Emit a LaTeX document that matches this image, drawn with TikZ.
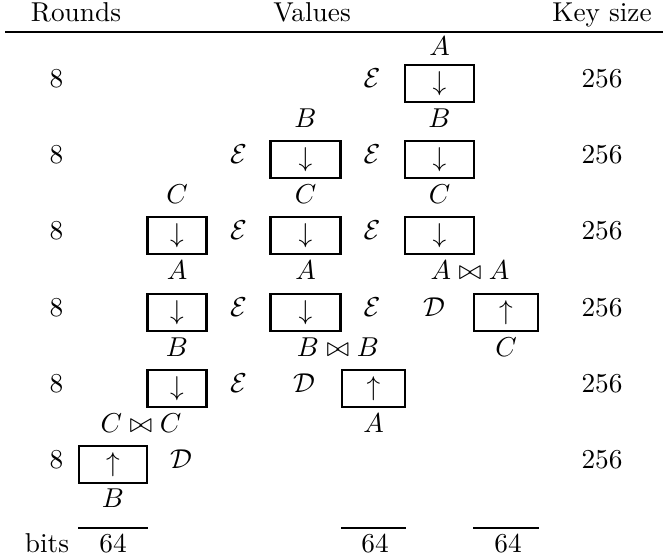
\documentclass[tikz,border=0pt]{standalone}
\begin{document}
\begin{tikzpicture}[x=0.3663pt,y=-0.3663pt,
  txt/.style={inner sep=0pt,anchor=base},
  cellbox/.style={draw,line width=0.8pt,inner sep=0pt,minimum height=13.6pt},
  headrule/.style={line width=0.9pt},
  bitrule/.style={line width=0.7pt}]
\useasboundingbox (0,0) rectangle (663,559);
% header
\node[txt] (hr) at (76,21) {Rounds};
\node[txt] (hv) at (312,21) {Values};
\node[txt] (hk) at (602,21) {Key size};
\coordinate (rl) at (5,32);
\coordinate (rr) at (663,32);
\draw[headrule] (rl) -- (rr);
% rounds and key sizes
\foreach \i/\y in {1/87,2/163,3/239,4/316,5/392,6/468}{
  \node[txt] (rd\i) at (56.5,\y) {8};
  \node[txt] (ks\i) at (602,\y) {256};
}
% row 1
\node[txt] (l0a) at (439.5,55) {$A$};
\node[txt] (e15) at (372,87) {$\mathcal{E}$};
\node[cellbox,minimum width=25.0pt] (b16) at (439.5,83.5) {$\downarrow$};
% labels 1-2
\node[txt] (l1b) at (305.5,127) {$B$};
\node[txt] (l1c) at (439.5,127) {$B$};
% row 2
\node[txt] (e23) at (238.5,163) {$\mathcal{E}$};
\node[cellbox,minimum width=25.6pt] (b24) at (305.5,159.5) {$\downarrow$};
\node[txt] (e25) at (372,163) {$\mathcal{E}$};
\node[cellbox,minimum width=25.0pt] (b26) at (439.5,159.5) {$\downarrow$};
% labels 2-3
\node[txt] (l2a) at (177,203) {$C$};
\node[txt] (l2b) at (305.5,203) {$C$};
\node[txt] (l2c) at (439.5,203) {$C$};
% row 3
\node[cellbox,minimum width=21.6pt] (b32) at (177,235.5) {$\downarrow$};
\node[txt] (e33) at (238.5,239) {$\mathcal{E}$};
\node[cellbox,minimum width=25.6pt] (b34) at (305.5,235.5) {$\downarrow$};
\node[txt] (e35) at (372,239) {$\mathcal{E}$};
\node[cellbox,minimum width=25.0pt] (b36) at (439.5,235.5) {$\downarrow$};
% labels 3-4
\node[txt] (l3a) at (177,279) {$A$};
\node[txt] (l3b) at (305.5,279) {$A$};
\node[txt] (l3c) at (470,279) {$A \bowtie A$};
% row 4
\node[cellbox,minimum width=21.6pt] (b42) at (177,312.5) {$\downarrow$};
\node[txt] (e43) at (238.5,316) {$\mathcal{E}$};
\node[cellbox,minimum width=25.6pt] (b44) at (305.5,312.5) {$\downarrow$};
\node[txt] (e45) at (372,316) {$\mathcal{E}$};
\node[txt] (d46) at (434,316) {$\mathcal{D}$};
\node[cellbox,minimum width=23.4pt] (b47) at (506,312.5) {$\uparrow$};
% labels 4-5
\node[txt] (l4a) at (177,356) {$B$};
\node[txt] (l4b) at (338,356) {$B \bowtie B$};
\node[txt] (l4c) at (506,356) {$C$};
% row 5
\node[cellbox,minimum width=21.6pt] (b52) at (177,388.5) {$\downarrow$};
\node[txt] (e53) at (238.5,392) {$\mathcal{E}$};
\node[txt] (d54) at (304,392) {$\mathcal{D}$};
\node[cellbox,minimum width=23.0pt] (b55) at (373.5,388.5) {$\uparrow$};
% labels 5-6
\node[txt] (l5a) at (141,432) {$C \bowtie C$};
\node[txt] (l5b) at (373.5,432) {$A$};
% row 6
\node[cellbox,minimum width=25.0pt] (b61) at (113,464.5) {$\uparrow$};
\node[txt] (d62) at (181,468) {$\mathcal{D}$};
% label below
\node[txt] (l6a) at (113,507) {$B$};
% bits
\node[txt] (bits) at (47,552) {bits};
\node[txt] (s1) at (113,552) {64};
\node[txt] (s5) at (375,552) {64};
\node[txt] (s7) at (508,552) {64};
\coordinate (u1l) at (78,528); \coordinate (u1r) at (148,528);
\coordinate (u5l) at (341,528); \coordinate (u5r) at (406,528);
\coordinate (u7l) at (473,528); \coordinate (u7r) at (539,528);
\draw[bitrule] (u1l) -- (u1r);
\draw[bitrule] (u5l) -- (u5r);
\draw[bitrule] (u7l) -- (u7r);
\end{tikzpicture}
\end{document}
